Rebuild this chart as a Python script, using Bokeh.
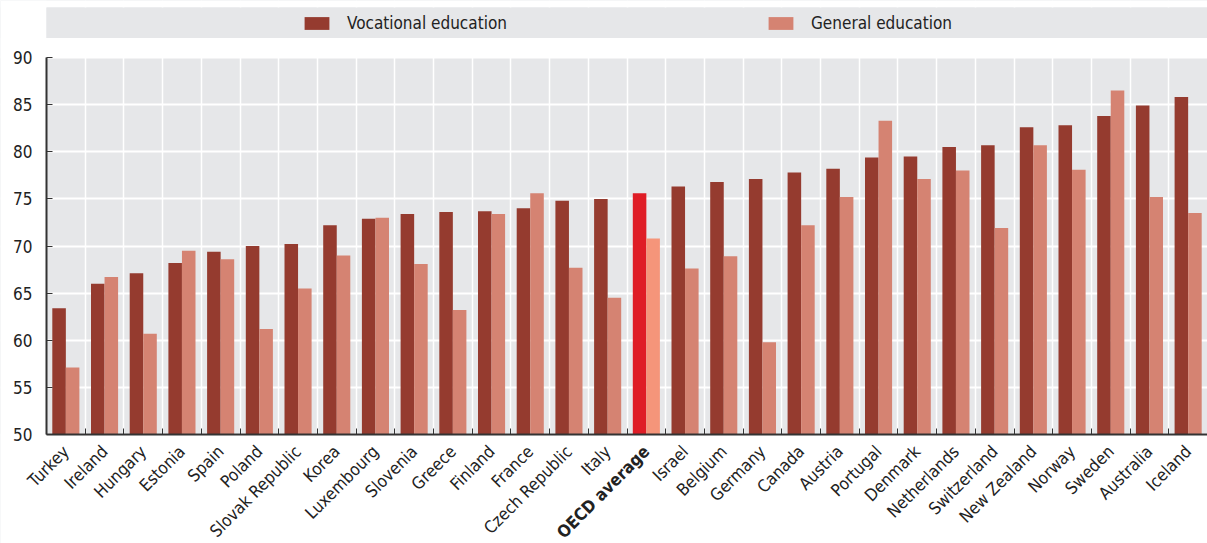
import math
from bokeh.plotting import figure
from bokeh.models import (ColumnDataSource, Range1d, FixedTicker, Legend, LegendItem,
                          BoxAnnotation, CDSView, IndexFilter)
from bokeh.transform import dodge
from bokeh.core.properties import value
from bokeh.embed import file_html
from bokeh.resources import INLINE

countries = ["Turkey", "Ireland", "Hungary", "Estonia", "Spain", "Poland", "Slovak Republic",
             "Korea", "Luxembourg", "Slovenia", "Greece", "Finland", "France", "Czech Republic",
             "Italy", "OECD average", "Israel", "Belgium", "Germany", "Canada", "Austria",
             "Portugal", "Denmark", "Netherlands", "Switzerland", "New Zealand", "Norway",
             "Sweden", "Australia", "Iceland"]
vocational = [63.4, 66.0, 67.1, 68.2, 69.4, 70.0, 70.2, 72.2, 72.9, 73.4, 73.6, 73.7, 74.0, 74.8,
              75.0, 75.6, 76.3, 76.8, 77.1, 77.8, 78.2, 79.4, 79.5, 80.5, 80.7, 82.6, 82.8,
              83.8, 84.9, 85.8]
general = [57.1, 66.7, 60.7, 69.5, 68.6, 61.2, 65.5, 69.0, 73.0, 68.1, 63.2, 73.4, 75.6, 67.7,
           64.5, 70.8, 67.6, 68.9, 59.8, 72.2, 75.2, 83.3, 77.1, 78.0, 71.9, 80.7, 78.1,
           86.5, 75.2, 73.5]
series_names = ["Vocational education", "General education"]
y_ticks = [50, 55, 60, 65, 70, 75, 80, 85, 90]
highlight = "OECD average"

FONT = "DejaVu Sans Condensed"
TXT = "#222222"
DARK, LIGHT = "#953B2F", "#D58372"
HI_DARK, HI_LIGHT = "#DF1D26", "#F5957A"
BG = "#E6E7E9"

n = len(countries)
xs = list(range(n))
hi = countries.index(highlight)
src = ColumnDataSource(dict(
    x=xs, name=countries, voc=vocational, gen=general,
    voc_color=[HI_DARK if c == highlight else DARK for c in countries],
    gen_color=[HI_LIGHT if c == highlight else LIGHT for c in countries],
))

# ---- layout geometry (screen pixels of the 1207x543 picture) ----
W, H = 1207, 543
PLOT_L, PLOT_R = 46, 1207          # plotting area left/right
Y50, Y90 = 434, 57                 # pixel rows of 50 and 90
BAND_T, BAND_B = 7, 37.5           # grey legend band
PX_Y = (Y50 - Y90) / 40.0
PX_X = (PLOT_R - PLOT_L) / n
Y0 = 50
Y_START = Y0 - (H - Y50) / PX_Y
Y_END = Y0 + Y50 / PX_Y
X_LEFT = -0.5
X_START = X_LEFT - PLOT_L / PX_X
X_END = X_LEFT + n
GAP_TOP = 90 + (Y90 - BAND_B) / PX_Y
BAND_TOP = 90 + (Y90 - BAND_T) / PX_Y

p = figure(frame_width=W, frame_height=H, output_backend="svg", toolbar_location=None,
           x_range=Range1d(X_START, X_END), y_range=Range1d(Y_START, Y_END),
           min_border=0)
p.background_fill_color = BG
p.border_fill_color = "white"
p.outline_line_color = None

r1 = p.vbar(x=dodge('x', -0.175), top='voc', bottom=Y0, width=0.35, source=src,
            fill_color='voc_color', line_color=None)
r2 = p.vbar(x=dodge('x', 0.175), top='gen', bottom=Y0, width=0.35, source=src,
            fill_color='gen_color', line_color=None)

boundaries = [i + 0.5 for i in range(n - 1)]
p.xgrid.ticker = FixedTicker(ticks=boundaries)
p.xgrid.grid_line_color = "white"
p.xgrid.grid_line_width = 1.5
p.ygrid.ticker = FixedTicker(ticks=y_ticks)
p.ygrid.grid_line_color = "white"
p.ygrid.grid_line_width = 2
p.ygrid.bounds = (X_LEFT, X_END)

# white outside the plotting area, grey legend band on top
for kw in (dict(top=Y0), dict(right=X_LEFT), dict(bottom=90, top=GAP_TOP),
           dict(bottom=BAND_TOP)):
    p.add_layout(BoxAnnotation(fill_color="white", fill_alpha=1, line_color=None,
                               level="underlay", **kw))
p.add_layout(BoxAnnotation(bottom=GAP_TOP, top=BAND_TOP, left=X_LEFT, fill_color=BG,
                           fill_alpha=1, line_color=None, level="underlay"))

STANDOFF = 14
LABEL_SIZE = "17px"
xa = p.xaxis[0]
xa.fixed_location = Y0
xa.bounds = (X_LEFT, X_END)
xa.ticker = FixedTicker(ticks=[i for i in xs if i != hi], minor_ticks=boundaries)
xa.major_label_overrides = {i: c for i, c in enumerate(countries) if i != hi}
xa.major_label_orientation = math.pi / 4
xa.major_label_text_font = FONT
xa.major_label_text_font_size = LABEL_SIZE
xa.major_label_text_color = TXT
xa.major_label_standoff = STANDOFF
xa.major_tick_line_color = None
xa.major_tick_in = 0
xa.major_tick_out = 0
xa.minor_tick_in = 6
xa.minor_tick_out = 0
xa.minor_tick_line_color = "#333333"
xa.axis_line_color = "#333333"
xa.axis_line_width = 2

# bold label for the OECD average, same placement as the axis labels
p.text(x='x', y=Y0, text='name', source=src, view=CDSView(filter=IndexFilter([hi])),
       angle=math.pi / 4, text_align="right", text_baseline="middle", y_offset=STANDOFF,
       text_font=value(FONT), text_font_size=LABEL_SIZE, text_color=TXT,
       text_font_style="bold")

ya = p.yaxis[0]
ya.fixed_location = X_LEFT
ya.ticker = FixedTicker(ticks=y_ticks)
ya.bounds = (50, 90)
ya.major_tick_in = 6
ya.major_tick_out = 0
ya.major_tick_line_color = "#333333"
ya.minor_tick_line_color = None
ya.axis_line_color = "#333333"
ya.axis_line_width = 2
ya.major_label_text_font = FONT
ya.major_label_text_font_size = "17px"
ya.major_label_text_color = TXT
ya.major_label_standoff = 14

legend = Legend(items=[LegendItem(label=series_names[0], renderers=[r1], index=0),
                       LegendItem(label=series_names[1], renderers=[r2], index=0)],
                orientation="horizontal", location=(301, H - 22 - 11), glyph_width=31,
                glyph_height=16, label_standoff=15, label_width=400, spacing=18,
                padding=2, margin=0, background_fill_alpha=0, border_line_color=None,
                label_text_font=FONT, label_text_font_size="17px", label_text_color=TXT)
p.add_layout(legend, "center")

open("out.html", "w").write(file_html(p, INLINE))
